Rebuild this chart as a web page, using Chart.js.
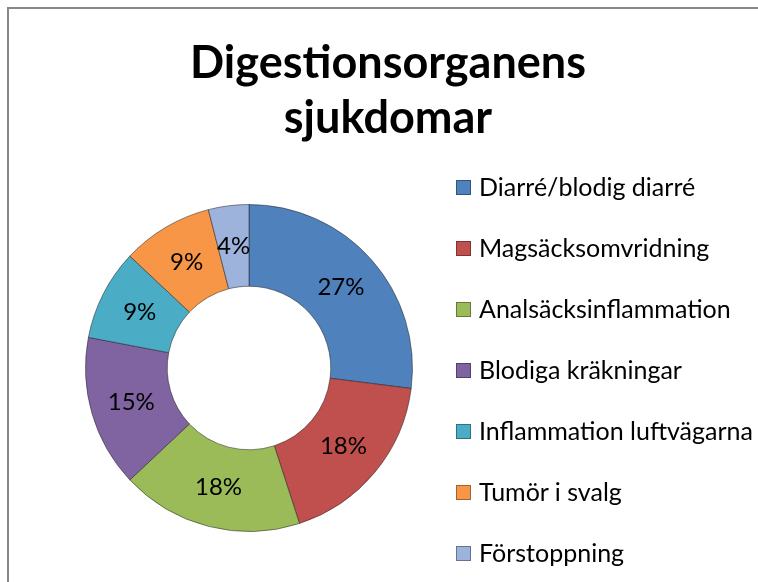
<!DOCTYPE html>
<html>
<head>
<meta charset="utf-8">
<script src="https://cdn.jsdelivr.net/npm/chart.js@4"></script>
<style>
  html, body { margin: 0; padding: 0; background: #fff; overflow: hidden; }
  #frame {
    position: absolute; left: 7px; top: 7px; width: 800px; height: 640px;
    border-left: 2px solid #888; border-top: 2px solid #888; background: #fff;
  }
  #chart { position: absolute; left: 0; top: 0; }
  #title {
    position: absolute; left: 0; top: 25px; width: 758px; text-align: center;
    font-family: Lato, sans-serif; font-weight: bold; font-size: 45px; line-height: 55px; color: #000;
  }
  #legend { position: absolute; left: 447px; top: 0; font-family: Lato, sans-serif; font-size: 25px; color: #000; }
  .item { position: absolute; left: 0; white-space: nowrap; height: 30px; line-height: 30px; }
  .box { position: absolute; left: 0; top: 8px; width: 15px; height: 15px; box-sizing: border-box; }
  .label { position: absolute; left: 23px; top: -1px; }
</style>
</head>
<body>
<div id="frame">
  <canvas id="chart" width="758" height="573"></canvas>
  <div id="title"></div>
  <div id="legend"></div>
</div>
<script>
// data
const categories = ['Diarré/blodig diarré', 'Magsäcksomvridning', 'Analsäcksinflammation',
  'Blodiga kräkningar', 'Inflammation luftvägarna', 'Tumör i svalg', 'Förstoppning'];
const percentValues = [27, 18, 18, 15, 9, 9, 4];
const sliceColors = ['#4F81BD', '#C0504D', '#9BBB59', '#8064A2', '#4BACC6', '#F79646', '#9DB3DC'];
const titleLines = ['Digestionsorganens', 'sjukdomar'];

function shade(hex, f) {
  const n = parseInt(hex.slice(1), 16);
  let r = (n >> 16) & 255, g = (n >> 8) & 255, b = n & 255;
  const m = v => Math.max(0, Math.min(255, Math.round(f < 0 ? v * (1 + f) : v + (255 - v) * f)));
  return 'rgb(' + m(r) + ',' + m(g) + ',' + m(b) + ')';
}

// bevel-ish fill for each slice
function sliceFill(context) {
  const chart = context.chart;
  const arc = chart.getDatasetMeta(0).data[context.dataIndex];
  const base = sliceColors[context.dataIndex];
  if (!arc) return base;
  const { x, y, innerRadius, outerRadius } = arc.getProps(['x', 'y', 'innerRadius', 'outerRadius'], true);
  if (!outerRadius) return base;
  const g = chart.ctx.createRadialGradient(x, y, innerRadius, x, y, outerRadius);
  g.addColorStop(0, shade(base, -0.25));
  g.addColorStop(0.08, shade(base, 0.15));
  g.addColorStop(0.18, base);
  g.addColorStop(0.86, base);
  g.addColorStop(0.93, shade(base, 0.08));
  g.addColorStop(1, shade(base, -0.3));
  return g;
}

// percent labels in the middle of each slice
const sliceLabels = {
  id: 'sliceLabels',
  afterDatasetsDraw(chart) {
    const ctx = chart.ctx;
    ctx.save();
    ctx.font = '24px Lato, sans-serif';
    ctx.fillStyle = '#000';
    ctx.textAlign = 'center';
    ctx.textBaseline = 'middle';
    chart.getDatasetMeta(0).data.forEach((arc, i) => {
      const p = arc.tooltipPosition();
      ctx.fillText(percentValues[i] + '%', p.x, p.y);
    });
    ctx.restore();
  }
};

new Chart(document.getElementById('chart'), {
  type: 'doughnut',
  data: {
    labels: categories,
    datasets: [{
      data: percentValues,
      backgroundColor: sliceFill,
      borderColor: 'rgba(30,30,30,0.5)',
      borderWidth: 1
    }]
  },
  options: {
    responsive: false,
    animation: false,
    cutout: '50%',
    layout: { padding: { left: 76, right: 354, bottom: 50, top: 195 } },
    plugins: {
      legend: { display: false },
      tooltip: { enabled: false },
      title: { display: false }
    }
  },
  plugins: [sliceLabels]
});

// title
document.getElementById('title').innerHTML = titleLines.join('<br>');

// legend
const legend = document.getElementById('legend');
categories.forEach((name, i) => {
  const item = document.createElement('div');
  item.className = 'item';
  item.style.top = (163 + i * 61) + 'px';
  const box = document.createElement('div');
  box.className = 'box';
  box.style.background = sliceColors[i];
  box.style.border = '1px solid ' + shade(sliceColors[i], -0.35);
  const label = document.createElement('span');
  label.className = 'label';
  label.textContent = name;
  item.appendChild(box);
  item.appendChild(label);
  legend.appendChild(item);
});
</script>
</body>
</html>
